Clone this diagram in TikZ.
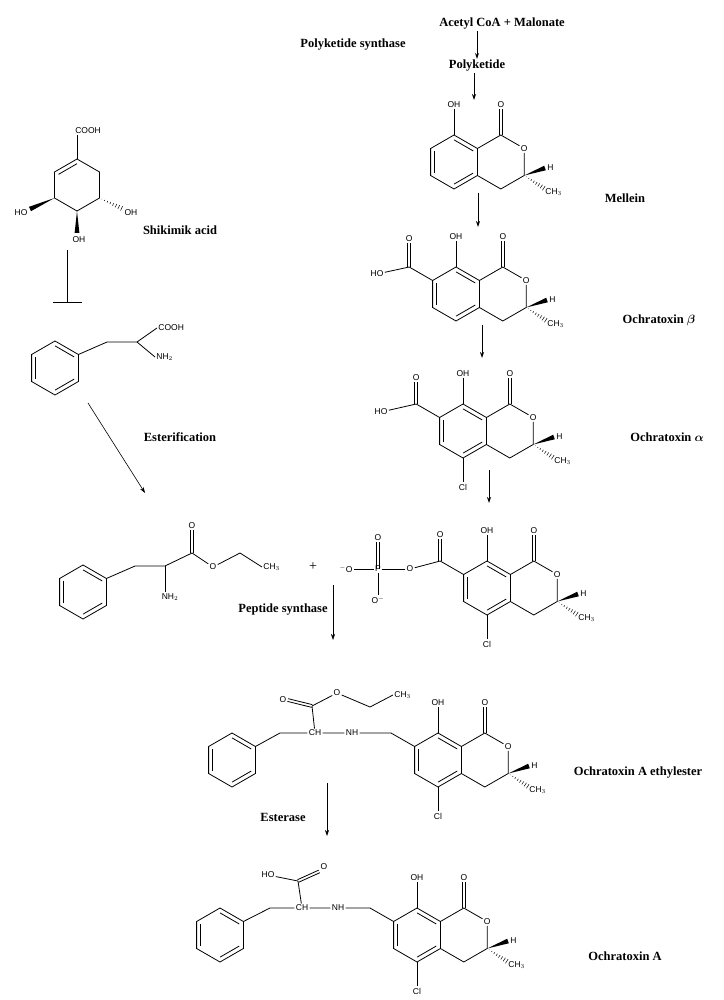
\documentclass[tikz,border=0pt]{standalone}
\usepackage{amsmath}
\usepackage{fontspec}
\setmainfont{Liberation Serif}
\newfontfamily\atomfont{Liberation Sans}
\usetikzlibrary{calc}
\usetikzlibrary{arrows.meta}

\tikzset{atom/.style={font=\atomfont\fontsize{8.5}{9}\selectfont, inner sep=1pt},
  lbl/.style={font=\bfseries\fontsize{12.5}{14}\selectfont, inner sep=1pt},
  rxn/.style={-{Stealth[length=6pt,width=4pt]}, thick}}

% ring of a pointy-top hexagon with three inner double lines
\newcommand\benz[3]{%
\begin{scope}[shift={(#2,#3)}]
\coordinate (#1c) at (0,0);
\coordinate (#1t) at (0,-27);   \coordinate (#1ur) at (23.4,-13.5);
\coordinate (#1lr) at (23.4,13.5); \coordinate (#1b) at (0,27);
\coordinate (#1ll) at (-23.4,13.5); \coordinate (#1ul) at (-23.4,-13.5);
\draw (#1t)--(#1ur)--(#1lr)--(#1b)--(#1ll)--(#1ul)--cycle;
\draw ($(#1t)!0.18!(#1c)$)--($(#1ur)!0.18!(#1c)$);
\draw ($(#1lr)!0.18!(#1c)$)--($(#1b)!0.18!(#1c)$);
\draw ($(#1ll)!0.18!(#1c)$)--($(#1ul)!0.18!(#1c)$);
\end{scope}}

% wedge and hashed bonds
\newcommand\wedgebond[2]{\fill (#1) -- ($(#2)!2.4pt!90:(#1)$) -- ($(#2)!2.4pt!-90:(#1)$) -- cycle;}
\newcommand\hashbond[2]{\foreach \t in {0.1,0.22,...,1}
   \draw[line width=0.5pt] ($(#1)!\t!(#2)!{\t*2.6pt}!90:(#2)$) -- ($(#1)!\t!(#2)!{\t*2.6pt}!-90:(#2)$);}
\newcommand\dbl[2]{\draw ($(#1)!1.4pt!90:(#2)$) -- ($(#2)!1.4pt!-90:(#1)$);
   \draw ($(#1)!1.4pt!-90:(#2)$) -- ($(#2)!1.4pt!90:(#1)$);}

% dihydroisocoumarin core
\newcommand\ochcore[3]{%
\benz{#1}{#2}{#3}
\begin{scope}[shift={(#2,#3)}]
\coordinate (#1k) at (46.8,-27);
\node[atom] (#1O) at (70.2,-13.5) {O};
\coordinate (#1s) at (70.2,13.5);
\coordinate (#1m) at (46.8,27);
\draw (#1ur)--(#1k)--(#1O)--(#1s)--(#1m)--(#1lr);
\node[atom] (#1ko) at (46.8,-57) {O};
\dbl{#1k}{#1ko.south}
\node[atom] (#1oh) at (0,-57) {OH};
\draw (#1t)--(#1oh);
\coordinate (#1hw) at (91,6);
\node[atom,anchor=west] (#1h) at (92,6) {H};
\wedgebond{#1s}{#1hw}
\coordinate (#1mh) at (91,27);
\node[atom,anchor=west] (#1me) at (90,30) {CH$_3$};
\hashbond{#1s}{#1mh}
\end{scope}}

\begin{document}
\begin{tikzpicture}[x=1pt,y=-1pt,line width=0.8pt]
\useasboundingbox (0,0) rectangle (723,1000);

% polyketide branch
\node[lbl] (acm) at (502,24) {Acetyl CoA + Malonate};
\node[lbl] (pks) at (353,45) {Polyketide synthase};
\node[lbl] (pk) at (477,66) {Polyketide};
\draw[rxn] (acm.south -| pk) -- (pk.north);

\ochcore{mel}{454}{162}
\draw[rxn] (pk.south -| 474,0) -- (474,100);
\node[lbl] (lmel) at (625,198) {Mellein};

\ochcore{bet}{456}{294}
\draw[rxn] (478,193) -- (478,227);
\coordinate (betca) at (409.2,267);
\draw (betul)--(betca);
\node[atom] (betco) at (409.2,239) {O};
\dbl{betca}{betco.south}
\node[atom] (betho) at (377,274) {HO};
\draw (betca)--(betho);
\node[lbl] (lbet) at (659,320) {Ochratoxin $\boldsymbol\beta$};

\ochcore{alp}{463}{431}
\draw[rxn] (482,325) -- (482,358);
\coordinate (alpca) at (416.2,404);
\draw (alpul)--(alpca);
\node[atom] (alpco) at (416.2,378) {O};
\dbl{alpca}{alpco.south}
\node[atom] (alpho) at (381,412) {HO};
\draw (alpca)--(alpho);
\node[atom] (alpcl) at (463,487) {Cl};
\draw (alpb)--(alpcl);
\node[lbl] (lalp) at (667,437) {Ochratoxin $\boldsymbol\alpha$};

% phosphate ester
\ochcore{pho}{487}{588}
\draw[rxn] (489,470) -- (489,503);
\coordinate (phoca) at (440.2,561);
\draw (phoul)--(phoca);
\node[atom] (phoco) at (440.2,535) {O};
\dbl{phoca}{phoco.south}
\node[atom] (phoeo) at (410,569) {O};
\draw (phoca)--(phoeo);
\node[atom] (phop) at (378,569) {P};
\draw (phoeo)--(phop);
\node[atom] (phopo) at (378,538) {O};
\dbl{phop}{phopo.south}
\node[atom] (phoom) at (346,569) {$^{-}$O};
\draw (phop)--(phoom);
\node[atom] (phoob) at (378,600) {O$^{-}$};
\draw (phop)--(phoob);
\node[atom] (phocl) at (487,644) {Cl};
\draw (phob)--(phocl);

% shikimic acid
\begin{scope}
\coordinate (sk1) at (77,159); \coordinate (sk2) at (99.5,172);
\coordinate (sk3) at (99.5,198); \coordinate (sk4) at (77,211);
\coordinate (sk5) at (54.5,198); \coordinate (sk6) at (54.5,172);
\coordinate (skc) at (77,185);
\draw (sk1)--(sk2)--(sk3)--(sk4)--(sk5)--(sk6)--cycle;
\draw ($(sk1)!0.18!(skc)$)--($(sk6)!0.18!(skc)$);
\node[atom] (skcooh) at (88,131) {COOH};
\draw (sk1)--(sk1 |- skcooh.south);
\coordinate (skw1) at (30,209); \node[atom] (skho) at (21,213) {HO};
\wedgebond{sk5}{skw1}
\coordinate (skw2) at (77,233); \node[atom] (skoh) at (79,240) {OH};
\wedgebond{sk4}{skw2}
\coordinate (skw3) at (123,209); \node[atom] (skoh2) at (131,213) {OH};
\hashbond{sk3}{skw3}
\end{scope}
\node[lbl] (lsk) at (180,230) {Shikimik acid};
\draw (67,250) -- (67,302);
\draw (53,302) -- (82,302);

% phenylalanine
\benz{phe}{55}{368}
\coordinate (phe1) at (107,342); \coordinate (phe2) at (137,342);
\draw (pheur)--(phe1)--(phe2);
\node[atom,anchor=west] (phecooh) at (157,328) {COOH};
\node[atom,anchor=west] (phenh) at (155,357) {NH$_2$};
\draw (phe2)--(phecooh.west); \draw (phe2)--(phenh.west);

\draw[rxn,line width=0.6pt] (88,403) -- (145,493);
\node[lbl] (lest) at (180,437) {Esterification};

% phenylalanine ethyl ester
\benz{pee}{83}{592}
\coordinate (pee1) at (135,566); \coordinate (pee2) at (165,566);
\coordinate (pee3) at (192,553); \coordinate (pee5) at (240,553);
\draw (peeur)--(pee1)--(pee2)--(pee3);
\node[atom] (peenh) at (170,597) {NH$_2$};
\draw (pee2)--(pee2 |- peenh.north);
\node[atom] (peeco) at (192,526) {O};
\dbl{pee3}{peeco.south}
\node[atom] (peeo) at (213,567) {O};
\node[atom,anchor=west] (peeme) at (262,567) {CH$_3$};
\draw (pee3)--(peeo)--(pee5)--(peeme.west);
\node[font=\fontsize{14}{14}\selectfont] (plus) at (313,567) {+};

\node[lbl] (lpep) at (283,610) {Peptide synthase};
\draw[rxn,line width=0.6pt] (333,585) -- (333,640);

% ochratoxin A ethylester
\ochcore{oae}{438}{760}
\node[atom] (oaecl) at (438,816) {Cl};
\draw (oaeb)--(oaecl);
\benz{oap}{232}{760}
\coordinate (oae1) at (280,733); \coordinate (oae2) at (391,733);
\node[atom] (oaech) at (315,733) {CH};
\node[atom] (oaenh) at (352,733) {NH};
\draw (oapur)--(oae1)--(oaech)--(oaenh)--(oae2)--(oaeul);
\coordinate (oaek) at (312,706);
\draw (oaech)--(oaek);
\node[atom] (oaeko) at (283,700) {O};
\dbl{oaek}{oaeko.east}
\node[atom] (oaeeo) at (337,693) {O};
\coordinate (oae3) at (370,707);
\node[atom,anchor=west] (oaeme) at (393,695) {CH$_3$};
\draw (oaek)--(oaeeo)--(oae3)--(oaeme.west);
\node[lbl] (loae) at (638,773) {Ochratoxin A ethylester};

\node[lbl] (lesr) at (283,817) {Esterase};
\draw[rxn,line width=0.6pt] (327,783) -- (327,836);

% ochratoxin A
\ochcore{ota}{417}{935}
\node[atom] (otacl) at (417,991) {Cl};
\draw (otab)--(otacl);
\benz{otp}{220}{935}
\coordinate (ota1) at (270,908); \coordinate (ota2) at (370,908);
\node[atom] (otach) at (302,908) {CH};
\node[atom] (otanh) at (338,908) {NH};
\draw (otpur)--(ota1)--(otach)--(otanh)--(ota2)--(otaul);
\coordinate (otak) at (298,881);
\draw (otach)--(otak);
\node[atom] (otaho) at (268,875) {HO};
\node[atom] (otako) at (324,867) {O};
\draw (otak)--(otaho);
\dbl{otak}{otako.south west}
\node[lbl] (lota) at (625,956) {Ochratoxin A};
\end{tikzpicture}
\end{document}
